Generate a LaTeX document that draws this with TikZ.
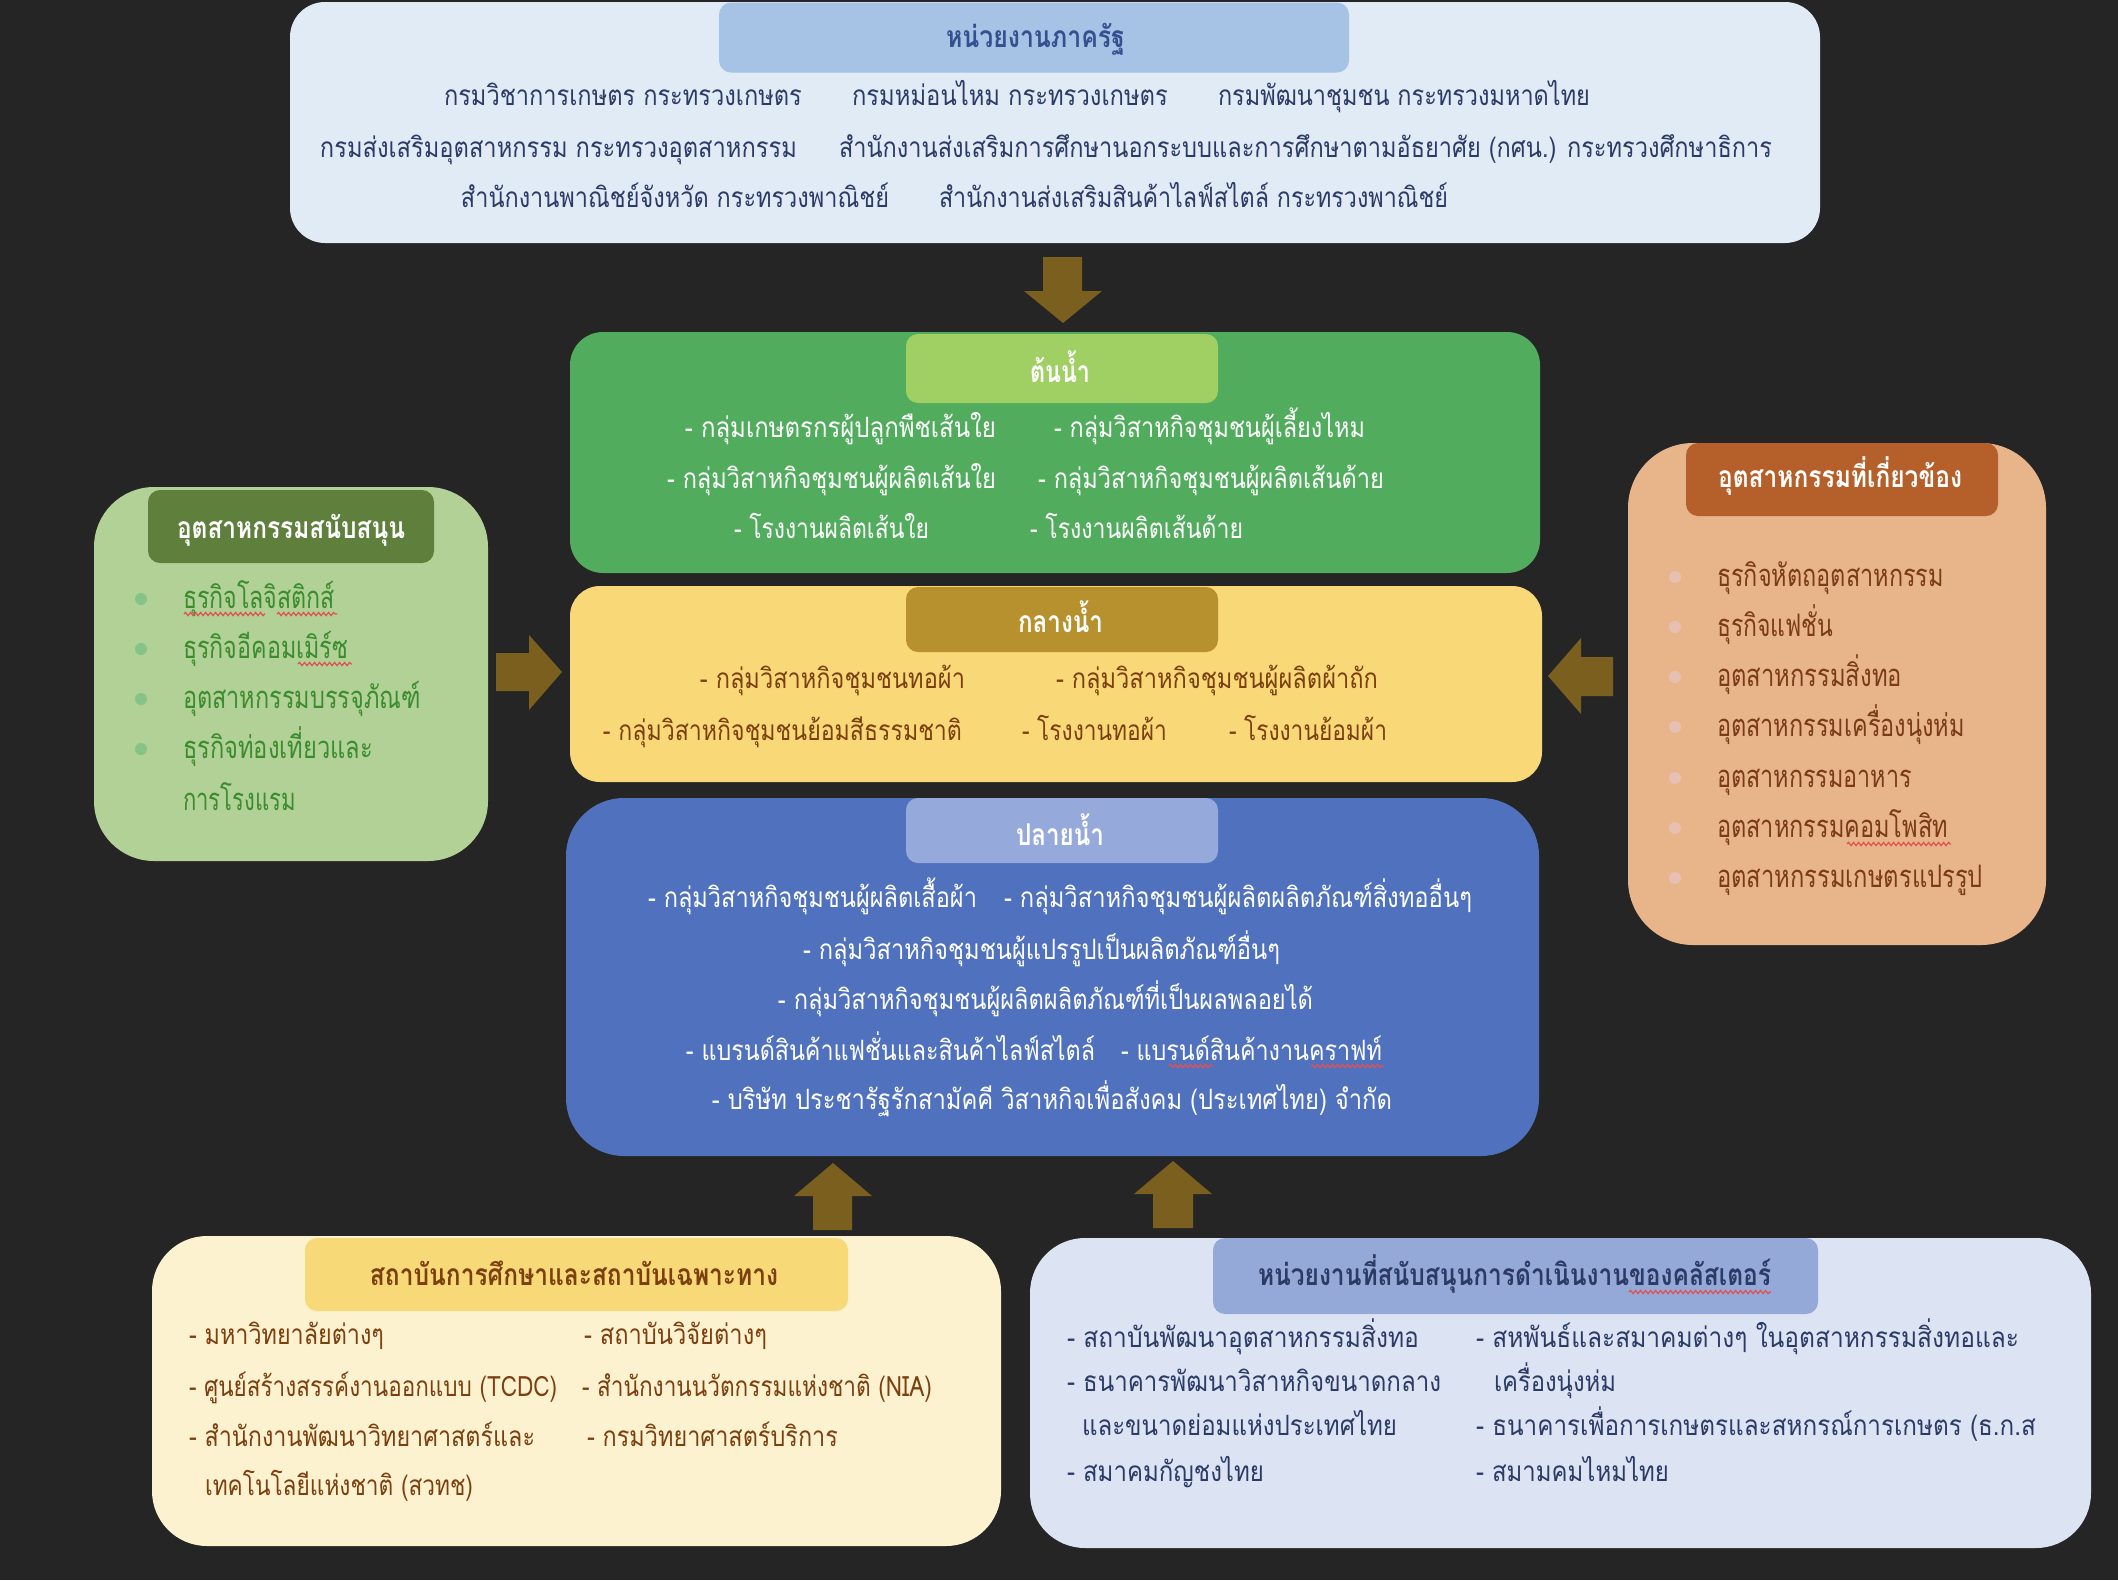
\documentclass[tikz,border=0pt]{standalone}
\usepackage{fontspec}
\usepackage{graphicx}
\usetikzlibrary{decorations.pathmorphing}
\newfontfamily\thai[Script=Thai]{Loma}
\newcommand{\fitw}[2]{\resizebox{#1pt}{\height}{#2}}
\definecolor{bgc}{HTML}{252525}
\definecolor{arrowc}{HTML}{7A5F1F}
\definecolor{govfill}{HTML}{E1EBF6}
\definecolor{govtab}{HTML}{A6C3E5}
\definecolor{govtitle}{HTML}{34508F}
\definecolor{navy}{HTML}{2C3A66}
\definecolor{upfill}{HTML}{51AD5D}
\definecolor{uptab}{HTML}{A0CF63}
\definecolor{midfill}{HTML}{F8D877}
\definecolor{midtab}{HTML}{B8912F}
\definecolor{brownt}{HTML}{7B3F10}
\definecolor{downfill}{HTML}{5072BE}
\definecolor{downtab}{HTML}{95AADA}
\definecolor{supfill}{HTML}{B1D196}
\definecolor{suptab}{HTML}{5F803D}
\definecolor{supbul}{HTML}{86C386}
\definecolor{suptext}{HTML}{3B8C2F}
\definecolor{relfill}{HTML}{E8B48A}
\definecolor{reltab}{HTML}{B5602A}
\definecolor{relbul}{HTML}{E8BFB3}
\definecolor{reltext}{HTML}{7B3B17}
\definecolor{edufill}{HTML}{FDF2CF}
\definecolor{edutab}{HTML}{F8D978}
\definecolor{clufill}{HTML}{DCE4F3}
\definecolor{clutab}{HTML}{95A9D8}
\definecolor{squig}{HTML}{E05050}
\tikzset{
  panel/.style={rectangle, draw=none, inner sep=0pt, outer sep=0pt},
  tab/.style={rectangle, draw=none, inner sep=0pt, outer sep=0pt, rounded corners=12pt},
  txt/.style={inner sep=0pt, outer sep=0pt, anchor=base},
  ltxt/.style={inner sep=0pt, outer sep=0pt, anchor=base west},
  body/.style={font=\thai\fontsize{28}{32}\selectfont},
  sidebody/.style={font=\thai\fontsize{31}{36}\selectfont},
  ttl/.style={font=\thai\bfseries\fontsize{30}{34}\selectfont},
  blockarrow/.style={fill=arrowc, draw=none},
  bullet/.style={circle, inner sep=0pt, minimum size=12pt, draw=none},
  spell/.style={draw=squig, line width=1.2pt, decorate, decoration={snake, amplitude=1.6pt, segment length=5pt}},
}
\begin{document}
\begin{tikzpicture}[x=1pt,y=-1pt]
\fill[bgc] (0,0) rectangle (2118,1580);
\useasboundingbox (0,0) rectangle (2118,1580);

% ---------------- top: government agencies
\node[panel, fill=govfill, rounded corners=35pt, minimum width=1530pt, minimum height=241pt] (gov) at (1055,122.5) {};
\node[tab, fill=govtab, minimum width=630pt, minimum height=70pt] (govtab) at (1034,37.5) {};
\node[txt, ttl, text=govtitle] (govt) at (1035.5,47) {\fitw{179}{หน่วยงานภาครัฐ}};
\begin{scope}[every node/.style={txt, body, text=navy}]
\node (a1) at (623,105) {\fitw{358}{กรมวิชาการเกษตร กระทรวงเกษตร}};
\node (a2) at (1010,105) {\fitw{316}{กรมหม่อนไหม กระทรวงเกษตร}};
\node (a3) at (1404,105) {\fitw{372}{กรมพัฒนาชุมชน กระทรวงมหาดไทย}};
\node (b1) at (558.5,157) {\fitw{477}{กรมส่งเสริมอุตสาหกรรม กระทรวงอุตสาหกรรม}};
\node (b2) at (1305.5,157) {\fitw{933}{สำนักงานส่งเสริมการศึกษานอกระบบและการศึกษาตามอัธยาศัย (กศน.) กระทรวงศึกษาธิการ}};
\node (c1) at (675,207) {\fitw{428}{สำนักงานพาณิชย์จังหวัด กระทรวงพาณิชย์}};
\node (c2) at (1193.5,207) {\fitw{509}{สำนักงานส่งเสริมสินค้าไลฟ์สไตล์ กระทรวงพาณิชย์}};
\end{scope}

% ---------------- upstream
\node[panel, fill=upfill, rounded corners=33pt, minimum width=970pt, minimum height=241pt] (up) at (1055,452.5) {};
\node[tab, fill=uptab, minimum width=312pt, minimum height=69pt] (uptab) at (1062,368.5) {};
\node[txt, ttl, text=white] (upt) at (1060,382) {\fitw{60}{ต้นน้ำ}};
\begin{scope}[every node/.style={txt, body, text=white}]
\node (g1) at (840.5,437) {\fitw{311}{- กลุ่มเกษตรกรผู้ปลูกพืชเส้นใย}};
\node (g2) at (1209.5,437) {\fitw{311}{- กลุ่มวิสาหกิจชุมชนผู้เลี้ยงไหม}};
\node (g3) at (831.5,488) {\fitw{329}{- กลุ่มวิสาหกิจชุมชนผู้ผลิตเส้นใย}};
\node (g4) at (1211,488) {\fitw{346}{- กลุ่มวิสาหกิจชุมชนผู้ผลิตเส้นด้าย}};
\node (g5) at (831.5,538) {\fitw{195}{- โรงงานผลิตเส้นใย}};
\node (g6) at (1136.5,538) {\fitw{213}{- โรงงานผลิตเส้นด้าย}};
\end{scope}

% ---------------- midstream
\node[panel, fill=midfill, rounded corners=30pt, minimum width=972pt, minimum height=196pt] (mid) at (1056,684) {};
\node[tab, fill=midtab, minimum width=312pt, minimum height=65pt] (midtab) at (1062,619.5) {};
\node[txt, ttl, text=white] (midt) at (1060.5,632) {\fitw{85}{กลางน้ำ}};
\begin{scope}[every node/.style={txt, body, text=brownt}]
\node (y1) at (832.5,688) {\fitw{265}{- กลุ่มวิสาหกิจชุมชนทอผ้า}};
\node (y2) at (1217,688) {\fitw{322}{- กลุ่มวิสาหกิจชุมชนผู้ผลิตผ้าถัก}};
\node (y3) at (782.5,740) {\fitw{359}{- กลุ่มวิสาหกิจชุมชนย้อมสีธรรมชาติ}};
\node (y4) at (1094.5,740) {\fitw{145}{- โรงงานทอผ้า}};
\node (y5) at (1308,740) {\fitw{158}{- โรงงานย้อมผ้า}};
\end{scope}

% ---------------- downstream
\node[panel, fill=downfill, rounded corners=58pt, minimum width=973pt, minimum height=358pt] (down) at (1052.5,977) {};
\node[tab, fill=downtab, minimum width=312pt, minimum height=65pt] (downtab) at (1062,830.5) {};
\node[txt, ttl, text=white] (downt) at (1060,845) {\fitw{88}{ปลายน้ำ}};
\begin{scope}[every node/.style={txt, body, text=white}]
\node (p1) at (812.5,907) {\fitw{329}{- กลุ่มวิสาหกิจชุมชนผู้ผลิตเสื้อผ้า}};
\node (p2) at (1238,907) {\fitw{468}{- กลุ่มวิสาหกิจชุมชนผู้ผลิตผลิตภัณฑ์สิ่งทออื่นๆ}};
\node (p3) at (1041.5,959) {\fitw{477}{- กลุ่มวิสาหกิจชุมชนผู้แปรรูปเป็นผลิตภัณฑ์อื่นๆ}};
\node (p4) at (1045.5,1009) {\fitw{535}{- กลุ่มวิสาหกิจชุมชนผู้ผลิตผลิตภัณฑ์ที่เป็นผลพลอยได้}};
\node (p5) at (890.5,1060) {\fitw{409}{- แบรนด์สินค้าแฟชั่นและสินค้าไลฟ์สไตล์}};
\node (p6) at (1251.5,1060) {\fitw{261}{- แบรนด์สินค้างานคราฟท์}};
\node (p7) at (1052,1109) {\fitw{680}{- บริษัท ประชารัฐรักสามัคคี วิสาหกิจเพื่อสังคม (ประเทศไทย) จำกัด}};
\end{scope}
\draw[spell] (1169,1066) -- (1213,1066);
\draw[spell] (1311,1066) -- (1384,1066);

% ---------------- supporting industries (left)
\node[panel, fill=supfill, rounded corners=60pt, minimum width=394pt, minimum height=374pt] (sup) at (291,674) {};
\node[tab, fill=suptab, minimum width=286pt, minimum height=73pt] (suptab) at (291,526.5) {};
\node[txt, ttl, text=white] (supt) at (291,538) {\fitw{228}{อุตสาหกรรมสนับสนุน}};
\foreach \yy [count=\i] in {599,649,699,749} \node[bullet, fill=supbul] (sb\i) at (141,\yy) {};
\begin{scope}[every node/.style={ltxt, sidebody, text=suptext}]
\node (s1) at (183,608) {\fitw{152}{ธุรกิจโลจิสติกส์}};
\node (s2) at (183,658) {\fitw{165}{ธุรกิจอีคอมเมิร์ซ}};
\node (s3) at (183,708) {\fitw{238}{อุตสาหกรรมบรรจุภัณฑ์}};
\node (s4) at (183,758) {\fitw{190}{ธุรกิจท่องเที่ยวและ}};
\node (s5) at (183,810) {\fitw{113}{การโรงแรม}};
\end{scope}
\draw[spell] (184,614) -- (265,614);
\draw[spell] (277,614) -- (337,614);
\draw[spell] (298,664) -- (352,664);

% ---------------- related industries (right)
\node[panel, fill=relfill, rounded corners=65pt, minimum width=418pt, minimum height=502pt] (rel) at (1837,694) {};
\node[tab, fill=reltab, minimum width=312pt, minimum height=73pt] (reltab) at (1842,479.5) {};
\node[txt, ttl, text=white] (relt) at (1840,487) {\fitw{244}{อุตสาหกรรมที่เกี่ยวข้อง}};
\foreach \yy [count=\i] in {577,627,677,727,778,828,878} \node[bullet, fill=relbul] (rb\i) at (1675,\yy) {};
\begin{scope}[every node/.style={ltxt, sidebody, text=reltext}]
\node (r1) at (1717,586) {\fitw{227}{ธุรกิจหัตถอุตสาหกรรม}};
\node (r2) at (1717,636) {\fitw{116}{ธุรกิจแฟชั่น}};
\node (r3) at (1717,686) {\fitw{185}{อุตสาหกรรมสิ่งทอ}};
\node (r4) at (1717,736) {\fitw{248}{อุตสาหกรรมเครื่องนุ่งห่ม}};
\node (r5) at (1717,787) {\fitw{195}{อุตสาหกรรมอาหาร}};
\node (r6) at (1717,837) {\fitw{231}{อุตสาหกรรมคอมโพสิท}};
\node (r7) at (1717,887) {\fitw{266}{อุตสาหกรรมเกษตรแปรรูป}};
\end{scope}
\draw[spell] (1847,844) -- (1951,844);

% ---------------- education (bottom left)
\node[panel, fill=edufill, rounded corners=55pt, minimum width=849pt, minimum height=310pt] (edu) at (576.5,1391) {};
\node[tab, fill=edutab, minimum width=543pt, minimum height=73pt] (edutab) at (576.5,1274.5) {};
\node[txt, ttl, text=brownt] (edut) at (574,1285) {\fitw{408}{สถาบันการศึกษาและสถาบันเฉพาะทาง}};
\begin{scope}[every node/.style={ltxt, body, text=brownt}]
\node (e1) at (189,1344) {\fitw{195}{- มหาวิทยาลัยต่างๆ}};
\node (e2) at (584,1344) {\fitw{183}{- สถาบันวิจัยต่างๆ}};
\node (e3) at (189,1396) {\fitw{368}{- ศูนย์สร้างสรรค์งานออกแบบ (TCDC)}};
\node (e4) at (582,1396) {\fitw{350}{- สำนักงานนวัตกรรมแห่งชาติ (NIA)}};
\node (e5) at (189,1446) {\fitw{346}{- สำนักงานพัฒนาวิทยาศาสตร์และ}};
\node (e6) at (587,1446) {\fitw{251}{- กรมวิทยาศาสตร์บริการ}};
\node (e7) at (205,1495) {\fitw{268}{เทคโนโลยีแห่งชาติ (สวทช)}};
\end{scope}

% ---------------- cluster support (bottom right)
\node[panel, fill=clufill, rounded corners=55pt, minimum width=1061pt, minimum height=310pt] (clu) at (1560.5,1393) {};
\node[tab, fill=clutab, minimum width=605pt, minimum height=76pt] (clutab) at (1515.5,1276) {};
\node[txt, ttl, text=navy] (clut) at (1514.5,1285) {\fitw{513}{หน่วยงานที่สนับสนุนการดำเนินงานของคลัสเตอร์}};
\draw[spell] (1629,1292) -- (1771,1292);
\begin{scope}[every node/.style={ltxt, body, text=navy}]
\node (f1) at (1067,1347) {\fitw{352}{- สถาบันพัฒนาอุตสาหกรรมสิ่งทอ}};
\node (f2) at (1476,1347) {\fitw{543}{- สหพันธ์และสมาคมต่างๆ ในอุตสาหกรรมสิ่งทอและ}};
\node (f3) at (1067,1391) {\fitw{374}{- ธนาคารพัฒนาวิสาหกิจขนาดกลาง}};
\node (f4) at (1494,1391) {\fitw{122}{เครื่องนุ่งห่ม}};
\node (f5) at (1082,1435) {\fitw{315}{และขนาดย่อมแห่งประเทศไทย}};
\node (f6) at (1476,1435) {\fitw{560}{- ธนาคารเพื่อการเกษตรและสหกรณ์การเกษตร (ธ.ก.ส}};
\node (f7) at (1067,1481) {\fitw{197}{- สมาคมกัญชงไทย}};
\node (f8) at (1476,1481) {\fitw{193}{- สมามคมไหมไทย}};
\end{scope}

% ---------------- block arrows
\fill[blockarrow] (1043,257) -- (1082,257) -- (1082,291) -- (1102,291) -- (1063,323) -- (1024,291) -- (1043,291) -- cycle;
\fill[blockarrow] (496,653) -- (529,653) -- (529,635) -- (562,672) -- (529,710) -- (529,691) -- (496,691) -- cycle;
\fill[blockarrow] (1613,657) -- (1581,657) -- (1581,638) -- (1548,676) -- (1581,714) -- (1581,696) -- (1613,696) -- cycle;
\fill[blockarrow] (813,1230) -- (813,1196) -- (794,1196) -- (833,1163) -- (872,1196) -- (852,1196) -- (852,1230) -- cycle;
\fill[blockarrow] (1153,1228) -- (1153,1194) -- (1134,1194) -- (1173,1161) -- (1212,1194) -- (1193,1194) -- (1193,1228) -- cycle;
\end{tikzpicture}
\end{document}
